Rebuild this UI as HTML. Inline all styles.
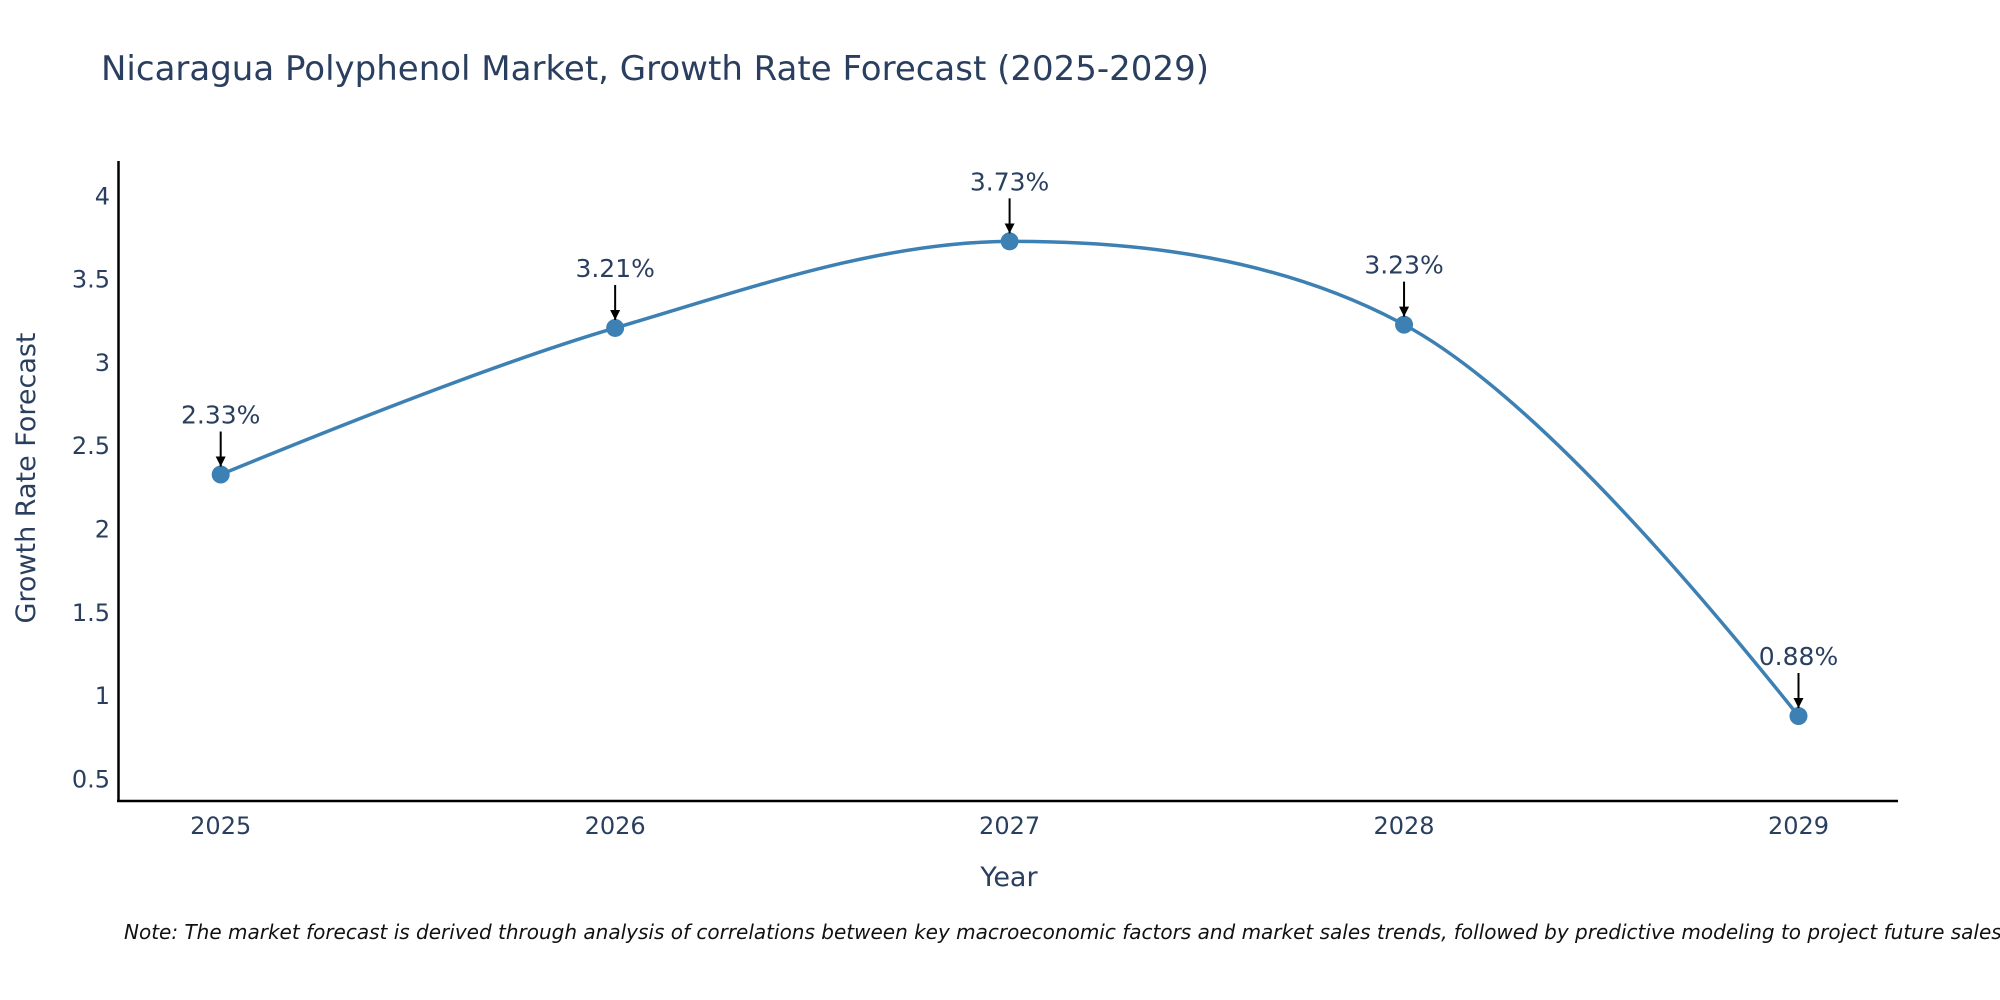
<!DOCTYPE html>
<html><head><meta charset="utf-8"><style>
html,body{margin:0;padding:0;background:#fff;}
svg{display:block;font-family:"DejaVu Sans","Liberation Sans",sans-serif;}
</style></head><body>
<svg id="chart" width="2000" height="1000" viewBox="0 0 2000 1000">
<defs><marker id="ah" viewBox="0 0 10 10" refX="10" refY="5" markerWidth="5" markerHeight="5" orient="auto"><path d="M0,0 L10,5 L0,10 z" fill="#000"/></marker></defs>
<text x="101" y="80" font-size="34" fill="#2a3f5f">Nicaragua Polyphenol Market, Growth Rate Forecast (2025-2029)</text>
<g id="yticks"></g>
<g id="xticks"></g>
<line x1="118.5" y1="161" x2="118.5" y2="801" stroke="#000" stroke-width="2.5"/>
<line x1="117" y1="801" x2="1898" y2="801" stroke="#000" stroke-width="2.5"/>
<text transform="translate(35,478) rotate(-90)" text-anchor="middle" font-size="27" fill="#2a3f5f">Growth Rate Forecast</text>
<text x="1009" y="886" text-anchor="middle" font-size="27" fill="#2a3f5f">Year</text>
<path id="line" fill="none" stroke="#3d80b3" stroke-width="3.5"/>
<g id="points"></g>
<g id="annots"></g>
<text x="124" y="939" font-size="20" font-style="italic" fill="#111">Note: The market forecast is derived through analysis of correlations between key macroeconomic factors and market sales trends, followed by predictive modeling to project future sales.</text>
</svg>
<script>
const years = [2025, 2026, 2027, 2028, 2029];
const growth = [2.33, 3.21, 3.73, 3.23, 0.88];
const yTickValues = [0.5, 1, 1.5, 2, 2.5, 3, 3.5, 4];
const yTickLabels = ["0.5", "1", "1.5", "2", "2.5", "3", "3.5", "4"];
const ns = "http://www.w3.org/2000/svg";
function xS(v){ return 220.7 + (v - 2025) * (1798.5 - 220.7) / 4; }
function yS(v){ return 779.3 - (v - 0.5) * (779.3 - 196.4) / 3.5; }
function mk(tag, attrs, parent, text){
  const e = document.createElementNS(ns, tag);
  for (const k in attrs) e.setAttribute(k, attrs[k]);
  if (text !== undefined) e.textContent = text;
  parent.appendChild(e); return e;
}
const yg = document.getElementById('yticks');
yTickValues.forEach((v, i) => {
  const t = mk('text', {x: 110, y: yS(v) + 8, 'text-anchor': 'end', 'font-size': 24, fill: '#2a3f5f'}, yg, yTickLabels[i]);
  
  
});
const xg = document.getElementById('xticks');
years.forEach(y => {
  const t = mk('text', {x: xS(y), y: 834, 'text-anchor': 'middle', 'font-size': 24, fill: '#2a3f5f'}, xg, String(y));
  
  
});
const pts = years.map((y, i) => [xS(y), yS(growth[i])]);
function tangent(p0, p1, p2, s){
  const d1x = p0[0]-p1[0], d1y = p0[1]-p1[1], d2x = p2[0]-p1[0], d2y = p2[1]-p1[1];
  const d1a = Math.pow(d1x*d1x + d1y*d1y, 0.25), d2a = Math.pow(d2x*d2x + d2y*d2y, 0.25);
  const numx = (d2a*d2a*d1x - d1a*d1a*d2x) * s, numy = (d2a*d2a*d1y - d1a*d1a*d2y) * s;
  const den1 = 3*d2a*(d1a+d2a), den2 = 3*d1a*(d1a+d2a);
  return [[p1[0] + numx/den1, p1[1] + numy/den1], [p1[0] - numx/den2, p1[1] - numy/den2]];
}
const tg = [];
for (let i = 1; i < pts.length - 1; i++) tg.push(tangent(pts[i-1], pts[i], pts[i+1], 1));
let d = 'M' + pts[0].join(',') + ' Q' + tg[0][0].join(',') + ' ' + pts[1].join(',');
for (let i = 2; i < pts.length - 1; i++) d += ' C' + tg[i-2][1].join(',') + ' ' + tg[i-1][0].join(',') + ' ' + pts[i].join(',');
d += ' Q' + tg[pts.length-3][1].join(',') + ' ' + pts[pts.length-1].join(',');
document.getElementById('line').setAttribute('d', d);
const pg = document.getElementById('points');
const ag = document.getElementById('annots');
pts.forEach((p, i) => {
  const c = mk('circle', {cx: p[0], cy: p[1], r: 9, fill: '#3d80b3'}, pg);
  
  
  const l = mk('line', {x1: p[0], y1: p[1] - 43, x2: p[0], y2: p[1] - 8, stroke: '#000', 'stroke-width': 2, 'marker-end': 'url(#ah)'}, ag);
  
  
  const t = mk('text', {x: p[0], y: p[1] - 51, 'text-anchor': 'middle', 'font-size': 25, fill: '#2a3f5f'}, ag, growth[i].toFixed(2) + '%');
  
  
});
</script>
</body></html>
